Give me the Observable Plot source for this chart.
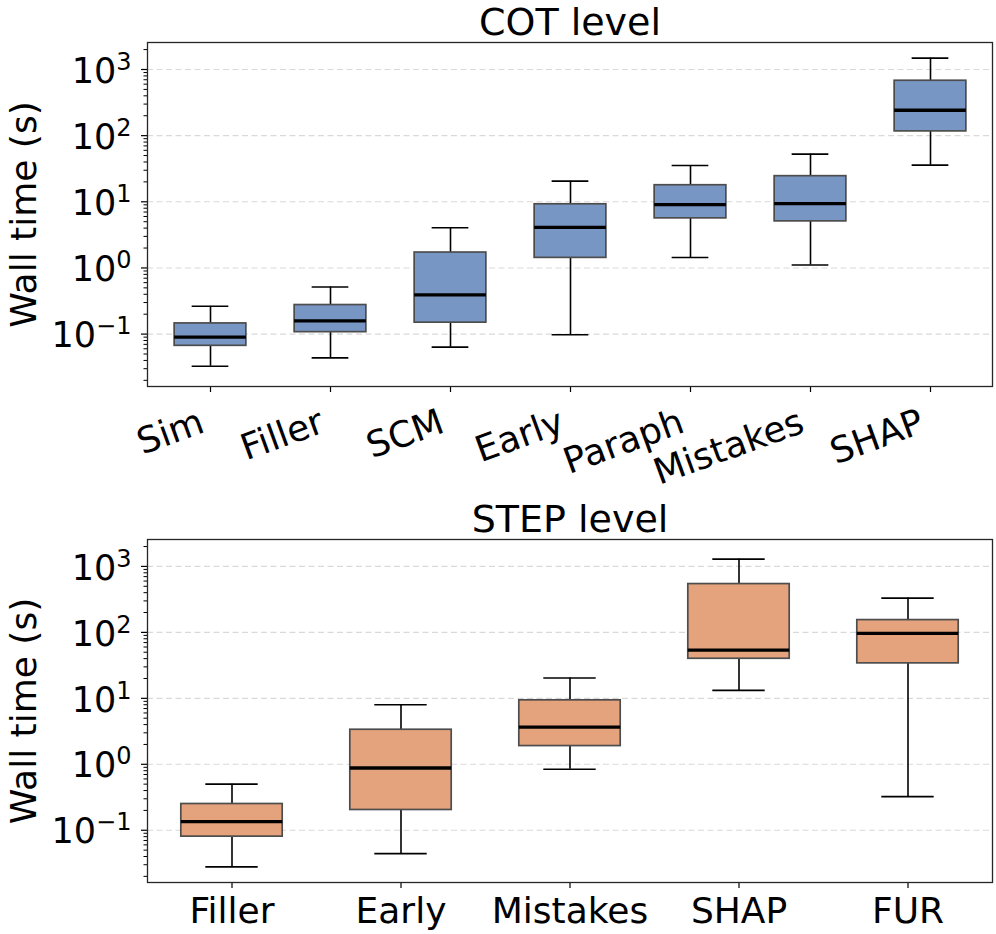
<!DOCTYPE html>
<html>
<head>
<meta charset="utf-8">
<script src="https://cdn.jsdelivr.net/npm/d3@7"></script>
<script src="https://cdn.jsdelivr.net/npm/@observablehq/plot@0.6"></script>
<style>
  html, body { margin: 0; padding: 0; background: #fff; }
  #charts svg { display: block; }
</style>
</head>
<body>
<div id="charts"></div>
<script>
// Wall-time distributions (seconds), summarised as box-plot statistics.

// COT level
const cotCategories   = ["Sim", "Filler", "SCM", "Early", "Paraph", "Mistakes", "SHAP"];
const cotWhiskerLow   = [0.0327, 0.0437, 0.0635, 0.098, 1.44, 1.11, 35.8];
const cotQ1           = [0.0665, 0.107, 0.149, 1.42, 5.62, 5.06, 116];
const cotMedian       = [0.090, 0.159, 0.391, 4.10, 9.06, 9.39, 242];
const cotQ3           = [0.145, 0.275, 1.71, 9.17, 17.8, 24.4, 676];
const cotWhiskerHigh  = [0.263, 0.516, 4.06, 20.5, 35.4, 52.5, 1486];

// STEP level
const stepCategories  = ["Filler", "Early", "Mistakes", "SHAP", "FUR"];
const stepWhiskerLow  = [0.0278, 0.0443, 0.839, 13.2, 0.323];
const stepQ1          = [0.080, 0.203, 1.89, 39.8, 33.9];
const stepMedian      = [0.135, 0.879, 3.67, 54, 96.6];
const stepQ3          = [0.25, 3.34, 9.33, 540, 153.6];
const stepWhiskerHigh = [0.50, 8.0, 20.3, 1291, 331];

// Shared log axis
const yDomain = [0.01614, 2559];
const yMajorTicks = [0.1, 1, 10, 100, 1000];
const yLabel = "Wall time (s)";

const FONT = "DejaVu Sans, sans-serif";
const SUP = {"-": "\u207B", "0": "\u2070", "1": "\u00B9", "2": "\u00B2", "3": "\u00B3",
             "4": "\u2074", "5": "\u2075", "6": "\u2076", "7": "\u2077", "8": "\u2078", "9": "\u2079"};
const UNSUP = Object.fromEntries(Object.entries(SUP).map(([k, v]) => [v, k === "-" ? "\u2212" : k]));
const powerOfTen = d => "10" + String(Math.round(Math.log10(d))).split("").map(c => SUP[c]).join("");

// minor log ticks 2..9 × 10^k inside the domain
const yMinorTicks = [];
for (let k = -2; k <= 3; ++k) {
  for (let m = 2; m <= 9; ++m) {
    const v = m * Math.pow(10, k);
    if (v >= yDomain[0] && v <= yDomain[1]) yMinorTicks.push(v);
  }
}

// Typeset "10ⁿ" tick labels as a base plus a raised, smaller exponent.
function typesetExponents(svg) {
  const ns = "http://www.w3.org/2000/svg";
  svg.querySelectorAll('g[aria-label="y-axis tick label"] text').forEach(t => {
    const s = t.textContent;
    if (!s.startsWith("10") || s.length < 3) return;
    const exp = s.slice(2).split("").map(c => UNSUP[c] ?? c).join("");
    t.textContent = "";
    const base = document.createElementNS(ns, "tspan");
    base.textContent = "10";
    const sup = document.createElementNS(ns, "tspan");
    sup.textContent = exp;
    sup.setAttribute("font-size", "24px");
    sup.setAttribute("dy", "-13");
    t.append(base, sup);
  });
  return svg;
}

function panel({categories, lo, q1, med, q3, hi, fill, title, height, marginTop, marginBottom, rotateLabels}) {
  const width = 996, marginLeft = 147, marginRight = 4;
  const step = (width - marginLeft - marginRight) / categories.length;
  const boxInset = step * 0.2;     // box = 60% of the slot
  const capInset = step * 0.345;   // caps ≈ half the box width
  const rows = categories.map((c, i) => ({cat: c, lo: lo[i], q1: q1[i], med: med[i], q3: q3[i], hi: hi[i]}));

  const xLabels = rotateLabels
    ? [
        Plot.axisX({tickSize: 6, tickFormat: () => "", label: null, strokeWidth: 1.2}),
        Plot.text(categories, {x: d => d, text: d => d, frameAnchor: "bottom",
          rotate: -20, textAnchor: "end", lineAnchor: "top", dx: -13, dy: 21, fontSize: 36})
      ]
    : [Plot.axisX({tickSize: 6, tickPadding: 9.4, fontSize: 36, label: null, strokeWidth: 1.2})];

  const svg = Plot.plot({
    width, height, marginLeft, marginRight, marginTop, marginBottom,
    style: {fontFamily: FONT, fontSize: "35px", color: "#000", background: "#fff", overflow: "visible"},
    x: {type: "band", domain: categories, padding: 0},
    y: {type: "log", domain: yDomain},
    marks: [
      // dashed horizontal grid at the decades
      Plot.ruleY(yMajorTicks, {stroke: "#d9d9d9", strokeWidth: 1.1, strokeDasharray: "6,3.5"}),
      // whiskers
      Plot.ruleX(rows, {x: "cat", y1: "lo", y2: "q1", stroke: "#000", strokeWidth: 1.6}),
      Plot.ruleX(rows, {x: "cat", y1: "q3", y2: "hi", stroke: "#000", strokeWidth: 1.6}),
      Plot.tickY(rows, {x: "cat", y: "lo", insetLeft: capInset, insetRight: capInset, stroke: "#000", strokeWidth: 1.6}),
      Plot.tickY(rows, {x: "cat", y: "hi", insetLeft: capInset, insetRight: capInset, stroke: "#000", strokeWidth: 1.6}),
      // boxes
      Plot.barY(rows, {x: "cat", y1: "q1", y2: "q3", fill, stroke: "#4d4d4d", strokeWidth: 1.7,
        insetLeft: boxInset, insetRight: boxInset}),
      // medians
      Plot.tickY(rows, {x: "cat", y: "med", insetLeft: boxInset, insetRight: boxInset, stroke: "#000", strokeWidth: 3.3}),
      // y axis: major ticks, minor ticks, power-of-ten labels
      Plot.axisY(yMajorTicks, {tickSize: 6, tickFormat: () => "", label: null, strokeWidth: 1.2}),
      Plot.axisY(yMinorTicks, {tickSize: 3.5, tickFormat: () => "", label: null, strokeWidth: 1}),
      Plot.axisY(yMajorTicks, {tickSize: 0, tickPadding: 16, dy: 2, tickFormat: powerOfTen, fontSize: 35, label: null}),
      Plot.text([yLabel], {frameAnchor: "left", rotate: -90, textAnchor: "middle", lineAnchor: "bottom",
        dx: -112, fontSize: 36}),
      ...xLabels,
      Plot.text([title], {frameAnchor: "top", textAnchor: "middle", lineAnchor: "bottom", dy: -7.5, fontSize: 38}),
      Plot.frame({stroke: "#262626", strokeWidth: 1.3})
    ]
  });
  return typesetExponents(svg);
}

const root = document.getElementById("charts");
root.append(panel({
  categories: cotCategories, lo: cotWhiskerLow, q1: cotQ1, med: cotMedian, q3: cotQ3, hi: cotWhiskerHigh,
  fill: "#7896c4", title: "COT level", height: 470, marginTop: 42, marginBottom: 84, rotateLabels: true
}));
root.append(panel({
  categories: stepCategories, lo: stepWhiskerLow, q1: stepQ1, med: stepMedian, q3: stepQ3, hi: stepWhiskerHigh,
  fill: "#e5a37d", title: "STEP level", height: 464, marginTop: 69, marginBottom: 52, rotateLabels: false
}));
</script>
</body>
</html>
